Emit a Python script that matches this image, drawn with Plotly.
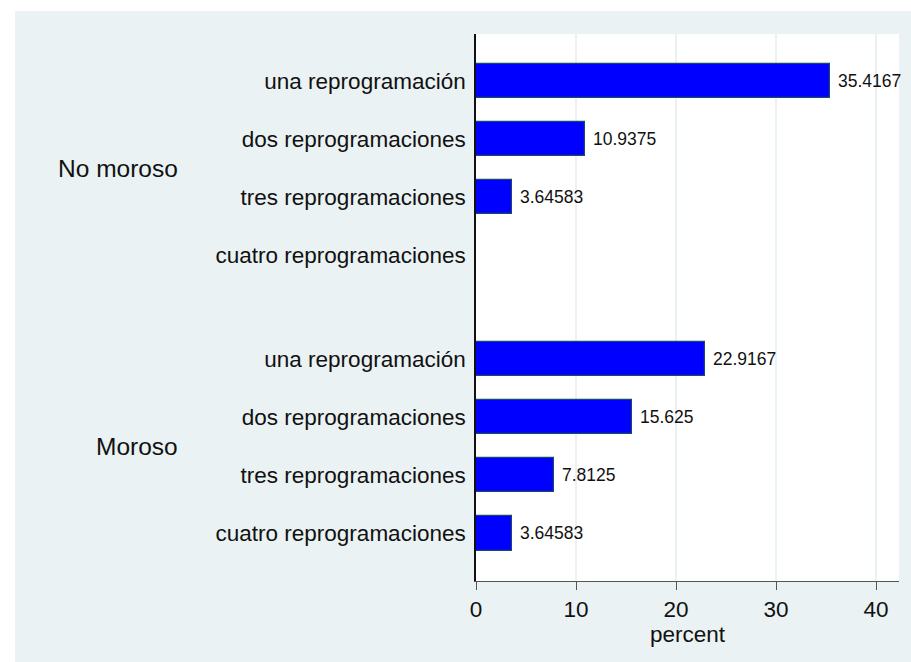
import plotly.graph_objects as go

groups = ["No moroso", "Moroso"]
categories = ["una reprogramación", "dos reprogramaciones",
              "tres reprogramaciones", "cuatro reprogramaciones"]
no_moroso = [35.4167, 10.9375, 3.64583, None]
moroso = [22.9167, 15.625, 7.8125, 3.64583]
x_ticks = [0, 10, 20, 30, 40]

series = [no_moroso, moroso]
GAP = 0.79
BG = "#EAF2F3"
FONT = "Liberation Sans, Arial, sans-serif"

ys, xs, labels = [], [], []
for g, vals in enumerate(series):
    for i, v in enumerate(vals):
        ys.append(g * (len(categories) + GAP) + i)
        xs.append(v)
        labels.append(categories[i])

fig = go.Figure()
fig.add_trace(go.Bar(
    x=xs, y=ys, orientation="h", width=0.59,
    marker=dict(color="#0000FF", line=dict(color="#1A476F", width=1.2)),
    hoverinfo="x+y", showlegend=False,
))

annotations = []
for x, y in zip(xs, ys):
    if x is None:
        continue
    annotations.append(dict(
        x=x, y=y, xref="x", yref="y", text="{:.6g}".format(x),
        showarrow=False, xanchor="left", yanchor="middle", xshift=6,
        font=dict(family=FONT, size=17.5, color="#111111"),
    ))

n = len(categories)
for g, name in enumerate(groups):
    gy = [g * (n + GAP) + i for i in range(n)]
    annotations.append(dict(
        x=-0.700, y=sum(gy) / n, xref="paper", yref="y", text=name,
        showarrow=False, xanchor="right", yanchor="middle",
        font=dict(family=FONT, size=24.5, color="#111111"),
    ))

W, H = 911, 662
L, R, T, B = 476, 12, 34, 81
pw, ph = W - L - R, H - T - B
shapes = [
    # white strips outside the graph region (left and top)
    dict(type="rect", xref="paper", yref="paper", layer="below",
         x0=-L / pw - 0.01, x1=(15 - L) / pw,
         y0=-B / ph - 0.01, y1=1 + T / ph + 0.01,
         fillcolor="white", line=dict(width=0)),
    dict(type="rect", xref="paper", yref="paper", layer="below",
         x0=-L / pw - 0.01, x1=1 + R / pw + 0.01,
         y0=1 + (T - 11) / ph, y1=1 + T / ph + 0.01,
         fillcolor="white", line=dict(width=0)),
]

fig.update_layout(
    width=W, height=H,
    margin=dict(l=L, r=R, t=T, b=B, pad=0),
    paper_bgcolor=BG, plot_bgcolor="white",
    font=dict(family=FONT, size=22.5, color="#111111"),
    bargap=0,
    annotations=annotations, shapes=shapes,
    xaxis=dict(
        range=[0, 42.3], tickvals=x_ticks, ticktext=[str(t) for t in x_ticks],
        showgrid=True, gridcolor=BG, gridwidth=1.5,
        showline=True, linecolor="#555555", linewidth=1.2,
        ticks="outside", ticklen=8, tickcolor="#555555", tickwidth=1.2,
        zeroline=False, fixedrange=True,
        tickfont=dict(size=22.5),
        title=dict(text="percent", font=dict(size=22.5), standoff=0),
    ),
    yaxis=dict(
        range=[len(categories) * 2 + GAP - 1 + 0.82, -0.81],
        tickvals=ys, ticktext=labels,
        showgrid=False, zeroline=False, fixedrange=True,
        showline=True, linecolor="#111111", linewidth=1.6,
        ticks="", ticklabelstandoff=4,
        tickfont=dict(size=22.5),
    ),
)

fig.write_html(
    "out.html",
    config={"displayModeBar": False},
    post_script="document.body.style.margin='0';document.body.style.overflow='hidden';",
)
